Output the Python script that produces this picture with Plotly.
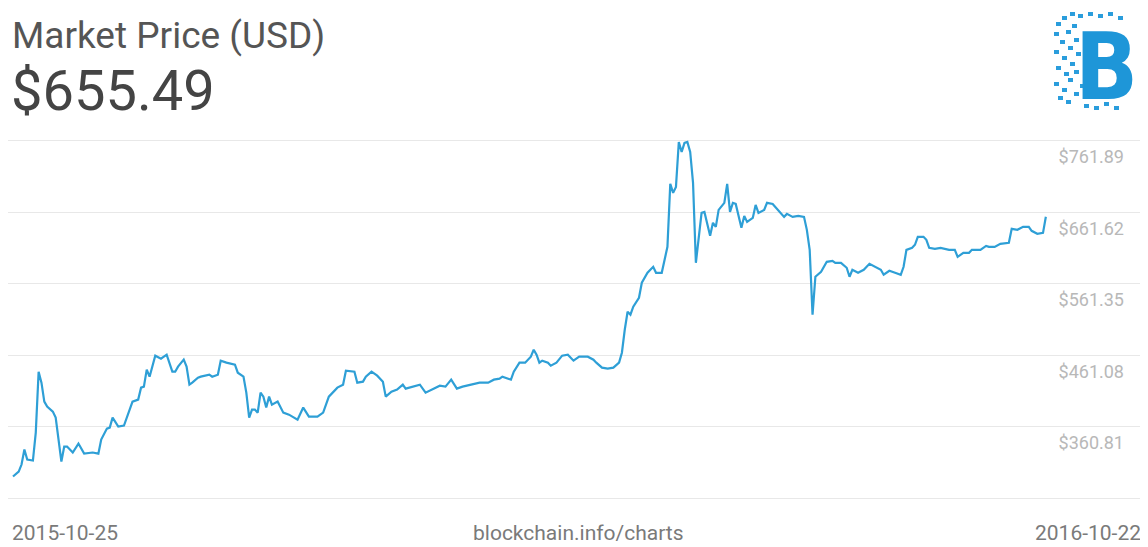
import pandas as pd
import plotly.graph_objects as go

start_date = "2015-10-25"
end_date = "2016-10-22"
current_price = "$655.49"

day_offset = [0, 2, 3, 4, 5, 7, 8, 9, 10, 11, 12, 14, 15, 16, 17, 18, 19, 21, 23, 25,
              28, 30, 31, 33, 34, 35, 37, 39, 41, 42, 44, 45, 46, 47, 48, 49, 50, 52, 53, 54,
              56, 57, 58, 60, 61, 62, 63, 65, 66, 69, 70, 72, 73, 75, 78, 79, 81, 82, 83, 84,
              85, 86, 87, 88, 89, 90, 91, 93, 95, 97, 100, 102, 104, 107, 109, 111, 114, 116, 117, 120,
              121, 123, 124, 126, 128, 130, 131, 133, 135, 137, 138, 141, 143, 145, 148, 150, 152, 154, 156, 158,
              161, 164, 167, 169, 171, 172, 175, 176, 178, 180, 182, 183, 184, 185, 186, 188, 189, 191, 193, 195,
              197, 199, 202, 204, 205, 207, 209, 211, 213, 214, 215, 216, 217, 218, 220, 221, 223, 225, 226, 228,
              230, 231, 232, 233, 234, 235, 236, 237, 238, 239, 240, 241, 242, 243, 245, 246, 247, 248, 250, 251,
              252, 253, 254, 256, 257, 258, 260, 261, 262, 264, 265, 267, 269, 271, 272, 274, 276, 278, 279, 280,
              281, 282, 284, 286, 288, 289, 291, 293, 294, 295, 297, 299, 301, 303, 305, 306, 308, 310, 312, 313,
              314, 316, 317, 318, 320, 321, 322, 324, 326, 329, 331, 332, 334, 336, 337, 340, 342, 343, 345, 347,
              349, 350, 351, 353, 355, 357, 358, 360, 362, 363]

price_usd = [290.7, 297.7, 307.5, 328.6, 314.5, 313.1, 352.4, 437.9, 422.5, 395.9, 388.9, 381.8, 373.4, 342.6, 311.7, 332.8, 332.8, 324.4, 337.0, 322.9,
             324.4, 322.9, 342.6, 358.0, 359.4, 373.4, 360.8, 362.2, 384.7, 395.9, 398.7, 415.5, 416.9, 440.8, 430.9, 445.0, 460.4, 456.2, 459.0, 461.8,
             437.9, 437.9, 445.0, 454.8, 445.0, 419.7, 422.5, 429.5, 430.9, 433.7, 430.9, 433.7, 453.4, 450.6, 447.8, 436.5, 430.9, 408.5, 373.4, 384.7,
             384.7, 380.4, 408.5, 402.9, 387.5, 402.9, 391.7, 395.9, 380.4, 377.6, 370.6, 387.5, 374.8, 374.8, 380.4, 402.9, 415.5, 419.7, 439.3, 437.9,
             422.5, 423.9, 430.9, 437.9, 432.3, 423.9, 402.9, 409.9, 412.7, 419.7, 414.1, 416.9, 419.7, 408.5, 414.1, 418.3, 416.9, 426.7, 414.1, 416.9,
             419.7, 422.5, 422.5, 426.7, 428.1, 430.9, 426.7, 437.9, 450.6, 450.6, 459.0, 468.8, 461.8, 450.6, 453.4, 450.6, 446.4, 450.6, 460.4, 461.8,
             453.4, 459.0, 459.0, 454.8, 450.6, 443.6, 442.2, 443.6, 450.6, 464.6, 496.8, 522.1, 517.9, 529.1, 541.7, 562.8, 576.8, 585.2, 576.8, 576.8,
             613.2, 701.6, 689.0, 697.4, 760.5, 746.5, 759.1, 760.5, 746.5, 703.0, 590.8, 623.1, 660.9, 662.3, 628.7, 646.9, 641.3, 665.1, 675.0, 701.6,
             662.3, 675.0, 673.5, 639.9, 656.7, 648.3, 653.9, 672.1, 660.9, 665.1, 675.0, 673.5, 665.1, 655.3, 659.5, 655.3, 656.7, 655.3, 637.1, 609.0,
             517.9, 571.2, 578.2, 592.2, 593.6, 590.8, 590.8, 583.8, 571.2, 581.0, 576.8, 581.0, 589.4, 585.2, 581.0, 574.0, 579.6, 576.8, 574.0, 585.2,
             609.0, 611.8, 616.1, 627.3, 627.3, 623.1, 611.8, 610.4, 611.8, 609.0, 609.0, 599.2, 604.8, 604.8, 609.0, 609.0, 614.6, 613.2, 613.2, 617.5,
             618.9, 618.9, 638.5, 637.1, 641.3, 641.3, 635.7, 631.5, 632.9, 655.49]

grid_values = [260.54, 360.81, 461.08, 561.35, 661.62, 761.89]
grid_labels = ["", "$360.81", "$461.08", "$561.35", "$661.62", "$761.89"]

t0 = pd.Timestamp(start_date)
dates = [t0 + pd.Timedelta(days=d) for d in day_offset]

# page body adds an 8px offset; figure sized to fit the window
OFF = 8
W, H = 1140, 539
ml, mr, mt, mb = 0, 0, 107, 42

fig = go.Figure()
fig.add_trace(go.Scatter(
    x=dates, y=price_usd, mode="lines",
    line=dict(color="#2e9fd6", width=2.2),
    hoverinfo="skip", showlegend=False,
))

x_lo = t0 - pd.Timedelta(hours=1.76 * 24)
x_hi = t0 + pd.Timedelta(hours=398.9 * 24)

fig.update_layout(
    width=W, height=H,
    margin=dict(l=ml, r=mr, t=mt, b=mb),
    paper_bgcolor="white", plot_bgcolor="white",
    font=dict(family="Roboto", color="#444"),
    xaxis=dict(range=[x_lo, x_hi], showgrid=False, showticklabels=False,
               zeroline=False, showline=False, ticks=""),
    yaxis=dict(range=[250.72, 798.35], side="right",
               tickvals=grid_values, ticktext=grid_labels,
               ticklabelposition="inside", ticklabelstandoff=21,
               ticklabelshift=16,
               tickfont=dict(family="Roboto", size=18, color="#b8b8b8"),
               showgrid=True, gridcolor="#e8e8e8", gridwidth=1,
               zeroline=False, showline=False, ticks=""),
)

def px_x(p):
    return (p - OFF - ml) / (W - ml - mr)

def px_y(p):
    return (H - mb - (p - OFF)) / (H - mt - mb)

annots = [
    dict(text="Market Price (USD)", x=px_x(10), y=px_y(35), xanchor="left", yanchor="middle",
         font=dict(family="Roboto", size=37, color="#555555")),
    dict(text=current_price, x=px_x(9), y=px_y(91), xanchor="left", yanchor="middle",
         font=dict(family="Roboto", size=56, color="#444444")),
    dict(text=start_date, x=px_x(10), y=px_y(533), xanchor="left", yanchor="middle",
         font=dict(family="Roboto", size=21, color="#7a7a7a")),
    dict(text="blockchain.info/charts", x=px_x(578), y=px_y(533), xanchor="center", yanchor="middle",
         font=dict(family="Roboto", size=21, color="#7a7a7a")),
    dict(text=end_date, x=px_x(1143), y=px_y(533), xanchor="right", yanchor="middle",
         font=dict(family="Roboto", size=21, color="#7a7a7a")),
    dict(text="<b>B</b>", x=px_x(1140), y=px_y(68), xanchor="right", yanchor="middle",
         font=dict(family="DejaVu Sans Condensed", size=92, color="#1e96d8")),
]
for a in annots:
    a.update(xref="paper", yref="paper", showarrow=False)
fig.update_layout(annotations=annots)

# pixel-like squares forming the left part of the logo
dots = [(1056, 22), (1062, 16), (1070, 12), (1078, 14), (1088, 12), (1098, 14), (1108, 12), (1118, 16),
        (1054, 32), (1060, 40), (1066, 30), (1072, 24), (1054, 50), (1062, 56), (1068, 46), (1074, 38),
        (1056, 66), (1064, 72), (1070, 62), (1076, 52), (1054, 82), (1062, 88), (1068, 78), (1074, 70),
        (1058, 96), (1066, 100), (1074, 92), (1080, 84), (1084, 104), (1094, 106), (1104, 102), (1114, 106)]
for (dx, dy) in dots:
    fig.add_shape(type="rect", xref="paper", yref="paper",
                  x0=px_x(dx), x1=px_x(dx + 5), y0=px_y(dy + 4), y1=px_y(dy),
                  fillcolor="#2a9ddc", line=dict(width=0))

fig.write_html("out.html")
